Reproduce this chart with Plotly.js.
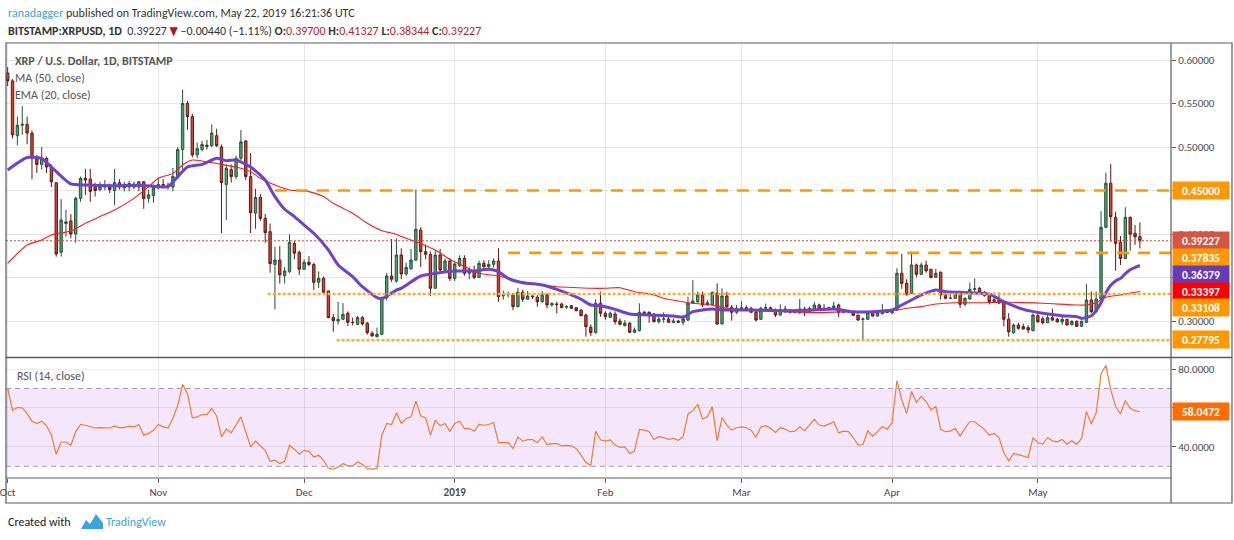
<!DOCTYPE html>
<html><head><meta charset="utf-8">
<script src="https://cdn.plot.ly/plotly-3.0.1.min.js"></script>
<style>html,body{margin:0;padding:0;background:#fff}#chart{width:1234px;height:540px}</style>
</head><body><div id="chart"></div>
<script>
// ---------- data (daily candles from 2018-10-01) ----------
const START_DATE = '2018-10-01';
const OPEN = [
0.585,0.576,0.513,0.525,0.526,0.516,0.486,0.480,0.487,0.477,
0.459,0.379,0.412,0.415,0.400,0.441,0.464,0.463,0.454,0.451,
0.454,0.454,0.450,0.459,0.453,0.454,0.457,0.454,0.460,0.441,
0.444,0.453,0.457,0.456,0.454,0.466,0.497,0.550,0.535,0.491,
0.497,0.502,0.5015,0.513,0.500,0.457,0.474,0.466,0.487,0.507,
0.466,0.424,0.442,0.418,0.4027,0.365,0.370,0.352,0.357,0.389,
0.379,0.3595,0.3675,0.365,0.3445,0.349,0.3345,0.304,0.300,0.302,
0.309,0.2985,0.2962,0.304,0.2974,0.286,0.282,0.2847,0.3268,0.3517,
0.346,0.3759,0.354,0.360,0.370,0.4046,0.3797,0.3767,0.3376,0.3759,
0.3586,0.369,0.349,0.3636,0.372,0.3548,0.3567,0.3502,0.3663,0.3624,
0.3651,0.369,0.329,0.330,0.330,0.3165,0.333,0.325,0.3287,0.3273,
0.3222,0.330,0.3184,0.3195,0.3195,0.3160,0.3176,0.3153,0.3126,0.3069,
0.2928,0.2866,0.3204,0.3089,0.3043,0.3080,0.3000,0.2946,0.2974,0.2870,
0.2889,0.3100,0.3100,0.3080,0.2992,0.3020,0.3023,0.2985,0.3000,0.2985,
0.3011,0.3204,0.3222,0.3300,0.3184,0.3184,0.3318,0.2966,0.3287,0.3158,
0.3100,0.3138,0.3153,0.3146,0.3100,0.3020,0.3146,0.3153,0.3126,0.3069,
0.3138,0.3126,0.3100,0.3096,0.3138,0.3100,0.3138,0.3184,0.3146,0.3138,
0.3153,0.3184,0.3100,0.3107,0.3107,0.3069,0.3019,0.3020,0.3100,0.3057,
0.3084,0.3107,0.3092,0.3126,0.3548,0.3433,0.3318,0.3644,0.3537,0.3644,
0.3594,0.3502,0.3560,0.3300,0.3261,0.3261,0.3310,0.3192,0.3253,0.3364,
0.3376,0.3330,0.3291,0.3222,0.3241,0.3215,0.3020,0.2866,0.2954,0.2935,
0.2924,0.2889,0.3061,0.3026,0.2981,0.3038,0.3019,0.2989,0.3019,0.2958,
0.2996,0.2939,0.2985,0.3241,0.3107,0.3253,0.4077,0.4583,0.4192,0.3905,
0.3720,0.4192,0.4008,0.3970];
const HIGH = [
0.592,0.578,0.535,0.547,0.535,0.519,0.491,0.500,0.489,0.480,
0.459,0.440,0.428,0.423,0.443,0.466,0.475,0.475,0.459,0.460,
0.462,0.458,0.475,0.463,0.460,0.461,0.460,0.461,0.461,0.451,
0.457,0.464,0.463,0.459,0.476,0.500,0.566,0.553,0.538,0.505,
0.507,0.508,0.526,0.521,0.503,0.480,0.480,0.490,0.5195,0.508,
0.493,0.452,0.446,0.423,0.412,0.3854,0.386,0.362,0.3997,0.392,
0.381,0.371,0.3745,0.367,0.357,0.351,0.335,0.308,0.322,0.3207,
0.311,0.304,0.306,0.3055,0.299,0.288,0.2925,0.328,0.355,0.3943,
0.395,0.3836,0.367,0.3828,0.4513,0.4077,0.388,0.380,0.381,0.383,
0.372,0.372,0.367,0.3755,0.3755,0.3615,0.3636,0.3695,0.370,0.370,
0.372,0.3836,0.335,0.334,0.332,0.338,0.336,0.3345,0.330,0.330,
0.3345,0.332,0.3215,0.3222,0.3210,0.3180,0.3185,0.3160,0.3135,0.3085,
0.2960,0.325,0.3337,0.3110,0.3110,0.3110,0.3030,0.3010,0.2990,0.2925,
0.3204,0.3115,0.3110,0.3090,0.3050,0.3100,0.3050,0.3030,0.3010,0.3070,
0.3280,0.3470,0.3337,0.3337,0.3240,0.3337,0.3433,0.3376,0.3337,0.3184,
0.3184,0.3230,0.3180,0.3165,0.3125,0.3165,0.3200,0.3165,0.3145,0.3192,
0.3172,0.3135,0.3110,0.3253,0.3165,0.3165,0.3222,0.3200,0.3195,0.3165,
0.3222,0.3200,0.3115,0.3115,0.3115,0.3069,0.3040,0.3107,0.3115,0.3107,
0.3195,0.3126,0.3138,0.3606,0.3770,0.3480,0.3797,0.3660,0.3670,0.3695,
0.3600,0.3600,0.3570,0.3318,0.3330,0.3345,0.3337,0.3272,0.3440,0.3490,
0.3390,0.3345,0.3310,0.3330,0.3330,0.3222,0.3090,0.2970,0.2980,0.2970,
0.2950,0.3085,0.3095,0.3050,0.3070,0.3142,0.3035,0.3065,0.3026,0.3008,
0.3008,0.3008,0.3425,0.3338,0.3338,0.4264,0.4705,0.4805,0.4257,0.3977,
0.4307,0.4200,0.4103,0.41327];
const LOW = [
0.570,0.510,0.502,0.514,0.503,0.463,0.470,0.474,0.470,0.454,
0.374,0.374,0.397,0.395,0.390,0.437,0.445,0.437,0.443,0.449,
0.450,0.447,0.433,0.451,0.449,0.449,0.452,0.449,0.429,0.436,
0.436,0.451,0.453,0.451,0.449,0.463,0.470,0.520,0.488,0.487,
0.495,0.497,0.500,0.500,0.401,0.416,0.459,0.463,0.485,0.462,
0.401,0.406,0.415,0.390,0.3555,0.3134,0.343,0.343,0.355,0.371,
0.353,0.359,0.363,0.3356,0.338,0.332,0.303,0.2877,0.296,0.301,
0.294,0.295,0.2955,0.295,0.2843,0.2815,0.281,0.2843,0.3235,0.345,
0.344,0.348,0.352,0.359,0.369,0.362,0.371,0.3287,0.337,0.354,
0.356,0.346,0.346,0.362,0.352,0.348,0.348,0.3495,0.3586,0.358,
0.3615,0.3222,0.3245,0.327,0.3125,0.3155,0.322,0.3245,0.3253,0.3165,
0.321,0.3145,0.3165,0.3087,0.3150,0.3140,0.3140,0.3110,0.3055,0.2820,
0.2828,0.2855,0.3050,0.3015,0.3035,0.2960,0.2950,0.2940,0.2860,0.2860,
0.2880,0.3080,0.2980,0.2985,0.2970,0.2980,0.2975,0.2975,0.2980,0.2950,
0.3000,0.3195,0.3200,0.3160,0.3175,0.3175,0.2955,0.2962,0.3145,0.3004,
0.3080,0.3125,0.3115,0.3090,0.2995,0.3011,0.3130,0.3110,0.3045,0.3060,
0.3092,0.3085,0.3090,0.3080,0.3055,0.3092,0.3130,0.3130,0.3125,0.3130,
0.3145,0.3045,0.3090,0.3095,0.3057,0.3004,0.2782,0.3011,0.3050,0.3050,
0.3076,0.3092,0.3084,0.3118,0.3370,0.3290,0.3310,0.3500,0.3530,0.3555,
0.3490,0.3495,0.3250,0.3250,0.3255,0.3253,0.3150,0.3170,0.3245,0.3320,
0.3310,0.3280,0.3190,0.3210,0.3195,0.2935,0.2820,0.2850,0.2900,0.2900,
0.2860,0.2880,0.2980,0.2960,0.2975,0.3000,0.2985,0.2955,0.2950,0.2950,
0.2935,0.2935,0.2975,0.3090,0.3096,0.3240,0.4065,0.3912,0.3578,0.3644,
0.3710,0.3808,0.3875,0.38344];
const CLOSE = [
0.576,0.514,0.525,0.526,0.516,0.487,0.480,0.487,0.477,0.460,
0.377,0.416,0.414,0.400,0.441,0.464,0.462,0.449,0.450,0.455,
0.455,0.451,0.459,0.454,0.456,0.458,0.454,0.460,0.441,0.445,
0.453,0.457,0.456,0.454,0.466,0.497,0.550,0.535,0.491,0.498,
0.503,0.501,0.516,0.5015,0.459,0.4755,0.466,0.487,0.506,0.466,
0.4245,0.442,0.418,0.4015,0.366,0.370,0.353,0.3575,0.3905,0.378,
0.3595,0.3675,0.365,0.3445,0.349,0.333,0.304,0.3004,0.302,0.3077,
0.2985,0.2983,0.304,0.2966,0.2866,0.283,0.2847,0.3268,0.3517,0.348,
0.3759,0.354,0.3617,0.370,0.4054,0.3797,0.3767,0.3376,0.3759,0.3586,
0.369,0.349,0.3655,0.372,0.3548,0.3586,0.3502,0.3663,0.3624,0.3651,
0.369,0.328,0.330,0.3305,0.3165,0.333,0.325,0.3287,0.3280,0.3222,
0.330,0.3184,0.320,0.3190,0.3153,0.3163,0.3146,0.3119,0.3061,0.2935,
0.2866,0.3204,0.3089,0.3050,0.3089,0.2992,0.2962,0.2974,0.2870,0.2897,
0.3100,0.3090,0.3080,0.2992,0.3023,0.3023,0.2985,0.3000,0.2985,0.3023,
0.3204,0.3230,0.3300,0.3184,0.3210,0.3330,0.2966,0.3287,0.3165,0.3100,
0.3146,0.3153,0.3138,0.3100,0.3011,0.3146,0.3153,0.3123,0.3069,0.3126,
0.3107,0.3100,0.3098,0.3138,0.3100,0.3146,0.3184,0.3138,0.3130,0.3153,
0.3172,0.3100,0.3105,0.3107,0.3065,0.3011,0.3023,0.3100,0.3057,0.3096,
0.3107,0.3100,0.3126,0.3548,0.3433,0.3307,0.3644,0.3537,0.3644,0.3578,
0.3502,0.3548,0.3300,0.3261,0.3262,0.3310,0.3192,0.3261,0.3364,0.3370,
0.3330,0.3291,0.3222,0.3245,0.3207,0.3020,0.2877,0.2954,0.2916,0.2910,
0.2897,0.3069,0.2992,0.2981,0.3038,0.3011,0.2989,0.3019,0.2954,0.2996,
0.2939,0.2996,0.3241,0.3107,0.3253,0.4077,0.4583,0.4199,0.3893,0.3720,
0.4192,0.3997,0.3967,0.39227];
const RSI = [
70,58.8,60.2,60,57.1,53.2,52,53.2,50.8,46,
36.2,42.5,42.5,40.8,47.7,51.5,51.1,50.3,49.7,49.9,
49.9,49.7,50.8,49.9,49.9,50.6,50.3,51.5,46,46.8,
48.5,51.5,50.3,49.7,54.6,61.4,72.1,67.4,54.9,55.4,
56.6,56.6,59.7,55.9,45.1,49.1,47.2,51.1,55.4,47.7,
40,42.9,40.5,38.2,32.6,33.1,31.4,32.6,40.8,38.8,
36.2,38.2,37.7,34.8,35.7,33.1,29.1,28.5,29.7,31.4,
30.2,30.2,32.2,30.9,28.8,28.5,28.8,46,52,51.5,
57.5,52,54.6,55.4,63.5,55.9,54.9,46,53.7,50.8,
52,48,52,53.2,49.4,49.4,48,51.5,51.1,51.5,
52.5,42.2,42.2,42.2,39.1,45.1,42.9,43.7,43.7,42.2,
45.1,41.2,41.7,41.7,40.5,40.8,40.5,39.1,35.7,31.9,
30.5,48,43.6,42.9,43.6,40.9,39.7,40,36.6,37.8,
49,48.6,47.8,43.8,45.2,44.7,43.8,44.3,43.4,45.2,
56.9,58.6,61.9,54.3,55.5,60.7,43.1,55,51.2,48.6,
49.8,50.3,49.8,48.6,44.8,50.3,50.9,49.5,47.4,49.8,
49.1,47.8,48.1,50.3,48.3,51.2,54.1,51.2,50.7,51.7,
52.9,47.2,48.1,47.8,44.8,40.9,41.2,48.3,45.5,47.8,
50.3,49.1,52.4,74,64.1,57.2,68.4,62.9,65.9,63.3,
59,60.7,49,47.8,48.1,49.5,45.5,49.5,52.9,52.9,
50.7,49,46,46.9,44.8,36.9,32.8,36.6,36,35.3,
34.5,44.7,42.1,41.4,44.7,43.1,42.6,43.8,41.4,43.1,
41.4,44.3,58.1,51.7,57.6,77.6,81.9,69.3,60.7,56.9,
63.8,59.8,58.6,58.0472];
// EMA(20) line, read at these day indexes
const EMA_DAY = [0,4,7,9,13,16,22,27,31,33,35,37,40,43,45,47,50,53,55,57,59,61,63,66,68,71,73,76,77,80,81,85,89,92,96,99,101,103,106,110,113,116,118,120,122,125,128,132,137,139,141,145,147,150,153,160,166,170,174,178,182,184,186,188,191,193,196,200,202,205,209,213,217,220,221,223,224,225,226,227,228,229,230,231,232,233];
const EMA_VAL = [0.4736,0.488,0.487,0.477,0.4575,0.4563,0.4556,0.456,0.4544,0.4544,0.466,0.477,0.480,0.487,0.4843,0.485,0.477,0.462,0.443,0.4284,0.42,0.4103,0.4008,0.3816,0.3644,0.351,0.3394,0.3268,0.3257,0.3356,0.3376,0.3517,0.3556,0.3575,0.3575,0.3594,0.3567,0.349,0.344,0.3414,0.3364,0.330,0.325,0.3184,0.3176,0.3134,0.308,0.3069,0.3057,0.3043,0.3107,0.3138,0.3126,0.3126,0.3126,0.3118,0.3126,0.3138,0.3107,0.3107,0.3126,0.3184,0.3241,0.330,0.3356,0.3337,0.333,0.3318,0.331,0.3222,0.3134,0.3089,0.3061,0.305,0.303,0.3061,0.312,0.321,0.3325,0.341,0.346,0.349,0.3545,0.359,0.3615,0.36379];
// MA(50) line, read at these day indexes
const MA_DAY = [0,4,7,9,13,16,19,22,26,29,31,34,36,38,40,43,47,50,52,55,58,62,65,67,71,74,77,80,81,84,88,91,94,97,101,105,109,113,117,120,123,126,129,133,135,138,141,145,148,152,156,160,166,173,180,183,185,188,191,195,200,206,213,220,222,224,226,229,233];
const MA_VAL = [0.3663,0.3874,0.3931,0.3989,0.4034,0.4123,0.42,0.4276,0.441,0.4544,0.464,0.4697,0.4793,0.485,0.484,0.481,0.477,0.4716,0.464,0.4563,0.4506,0.4487,0.443,0.4353,0.4238,0.4123,0.4038,0.3997,0.397,0.3912,0.3816,0.3709,0.3625,0.3548,0.3517,0.346,0.3425,0.3394,0.3383,0.3376,0.3376,0.3383,0.3337,0.330,0.3261,0.323,0.3204,0.3184,0.3146,0.3126,0.3115,0.3107,0.3096,0.3107,0.3107,0.3126,0.3146,0.3165,0.3195,0.321,0.321,0.3215,0.3204,0.3184,0.3184,0.321,0.3273,0.330,0.33397];
const LEVELS = [0.45, 0.37835, 0.33108, 0.27795];
const LEVEL_FROM = ['2018-11-25', '2019-01-12', '2018-11-23 12:00', '2018-12-07 16:00'];
const LEVEL_STYLE = ['long', 'long', 'dot', 'dot'];
const LAST = {price: 0.39227, ema: 0.36379, ma: 0.33397, rsi: 58.0472};
const MONTH_TICKS = ['2018-10-01','2018-11-01','2018-12-01','2019-01-01','2019-02-01','2019-03-01','2019-04-01','2019-05-01'];
const MONTH_LABELS = ['Oct','Nov','Dec','<b>2019</b>','Feb','Mar','Apr','May'];
const PRICE_TICKS = [0.30,0.35,0.40,0.45,0.50,0.55,0.60];
const PRICE_LABELS = ['0.30000','','0.40000','','0.50000','0.55000','0.60000'];
const RSI_TICKS = [40,60,80];
const RSI_LABELS = ['40.0000','','80.0000'];

// ---------- build ----------
const t0 = Date.parse(START_DATE + 'T00:00:00Z');
const DATES = CLOSE.map((_, i) => new Date(t0 + i * 86400000).toISOString().slice(0, 10));
const X_RANGE = ['2018-09-30 15:45', '2019-05-28 09:36'];
const FONT = "Carlito, 'Liberation Sans Narrow', 'Arial Narrow', 'DejaVu Sans Condensed', sans-serif";
const W = 1234, H = 540, ML = 6, MR = 63, MT = 43, MB = 62;
const PW = W - ML - MR, PH = H - MT - MB;
const px = v => (v - ML) / PW;
const py = v => (H - MB - v) / PH;

const ORANGE = '#ff9800';
const traces = [
  {type: 'candlestick', x: DATES, open: OPEN, high: HIGH, low: LOW, close: CLOSE,
   xaxis: 'x', yaxis: 'y', whiskerwidth: 0,
   increasing: {line: {color: '#225437', width: 1}, fillcolor: '#53a177'},
   decreasing: {line: {color: '#5b1a13', width: 1}, fillcolor: '#d0473a'},
   hoverinfo: 'skip'},
  {type: 'scatter', mode: 'lines', x: MA_DAY.map(i => DATES[i]), y: MA_VAL,
   line: {color: '#ff1a1a', width: 1.1, shape: 'spline', smoothing: 0.6}, xaxis: 'x', yaxis: 'y', hoverinfo: 'skip'},
  {type: 'scatter', mode: 'lines', x: EMA_DAY.map(i => DATES[i]), y: EMA_VAL,
   line: {color: '#6f42c9', width: 3, shape: 'spline', smoothing: 0.6}, xaxis: 'x', yaxis: 'y', hoverinfo: 'skip'},
  {type: 'scatter', mode: 'lines', x: DATES, y: RSI,
   line: {color: '#f57a36', width: 1.2}, xaxis: 'x', yaxis: 'y2', hoverinfo: 'skip'}
];

const shapes = [];
// RSI band and bounds
shapes.push({type: 'rect', xref: 'paper', yref: 'y2', x0: 0, x1: 1, y0: 30, y1: 70,
  fillcolor: '#f4e7fb', line: {width: 0}, layer: 'below'});
[70, 30].forEach(v => shapes.push({type: 'line', xref: 'paper', yref: 'y2', x0: 0, x1: 1, y0: v, y1: v,
  line: {color: '#a79cae', width: 1, dash: '5px,4px'}}));
// support / resistance levels
LEVELS.forEach((v, k) => shapes.push({type: 'line', xref: 'x', yref: 'y', x0: LEVEL_FROM[k], x1: X_RANGE[1], y0: v, y1: v,
  line: LEVEL_STYLE[k] === 'long' ? {color: ORANGE, width: 2.6, dash: '12px,9px'} : {color: '#ffab2e', width: 2.6, dash: '3px,2px'}}));
// last price line
shapes.push({type: 'line', xref: 'x', yref: 'y', x0: X_RANGE[0], x1: X_RANGE[1], y0: LAST.price, y1: LAST.price,
  line: {color: '#e0453a', width: 1, dash: '2px,2px'}});
// frame, pane separator, axes
const FRAME = '#5a5a5a';
shapes.push({type: 'rect', xref: 'paper', yref: 'paper', x0: px(6), x1: px(1232), y0: py(503), y1: py(43), line: {color: FRAME, width: 1.2}});
shapes.push({type: 'line', xref: 'paper', yref: 'paper', x0: px(6), x1: px(1232), y0: py(357.5), y1: py(357.5), line: {color: FRAME, width: 1.6}});
shapes.push({type: 'line', xref: 'paper', yref: 'paper', x0: px(6), x1: px(1171), y0: py(478), y1: py(478), line: {color: FRAME, width: 1.2}});
shapes.push({type: 'line', xref: 'paper', yref: 'paper', x0: px(1171), x1: px(1171), y0: py(503), y1: py(43), line: {color: FRAME, width: 1.2}});
// TradingView logo (simple mountain mark)
shapes.push({type: 'path', xref: 'paper', yref: 'paper',
  path: `M ${px(81)} ${py(529)} L ${px(86)} ${py(520)} L ${px(90)} ${py(524)} L ${px(96)} ${py(514)} L ${px(103)} ${py(523)} L ${px(103)} ${py(529)} Z`,
  fillcolor: '#3ba4e0', line: {width: 0}});

const annotations = [];
const TXT = 12;
const note = (text, x, y, opts) => annotations.push(Object.assign({text, x, y, xref: 'paper', yref: 'paper',
  xanchor: 'left', yanchor: 'middle', showarrow: false, font: {family: FONT, size: TXT, color: '#333'}}, opts || {}));
note('<span style="color:#3ba4e0">ranadagger</span> published on TradingView.com, May 22, 2019 16:21:36 UTC', px(6), py(13));
note('<b>BITSTAMP:XRPUSD, 1D</b>  0.39227 <span style="color:#b0161b">▼</span> −0.00440 (−1.11%) <b>O:</b><span style="color:#c0201c">0.39700</span> <b>H:</b><span style="color:#c0201c">0.41327</span> <b>L:</b><span style="color:#c0201c">0.38344</span> <b>C:</b><span style="color:#c0201c">0.39227</span>', px(6), py(31));
note('<b>XRP / U.S. Dollar, 1D, BITSTAMP</b>', px(13), py(61), {font: {family: FONT, size: TXT, color: '#555'}});
note('MA (50, close)', px(13), py(78), {font: {family: FONT, size: TXT, color: '#555'}});
note('EMA (20, close)', px(13), py(95), {font: {family: FONT, size: TXT, color: '#555'}});
note('RSI (14, close)', px(15), py(376), {font: {family: FONT, size: TXT, color: '#555'}});
note('Created with', px(6), py(522), {font: {family: FONT, size: TXT, color: '#222'}});
note('TradingView', px(104), py(522), {font: {family: FONT, size: TXT, color: '#3ba4e0'}});

const tag = (val, txt, yref, bg, yshift) => annotations.push({text: '<b>' + txt + '</b>', x: px(1172), y: val,
  xref: 'paper', yref, xanchor: 'left', yanchor: 'middle', yshift, showarrow: false, bgcolor: bg,
  width: 54, height: 15, borderpad: 1, align: 'center', font: {family: FONT, size: 11.5, color: '#fff'}});
tag(LEVELS[0], LEVELS[0].toFixed(5), 'y', ORANGE, 0);
tag(LAST.price, LAST.price.toFixed(5), 'y', '#d75442', 0);
tag(LEVELS[1], LEVELS[1].toFixed(5), 'y', ORANGE, -4.5);
tag(LAST.ema, LAST.ema.toFixed(5), 'y', '#673ab7', -8.5);
tag(LAST.ma, LAST.ma.toFixed(5), 'y', '#ff0000', 0);
tag(LEVELS[2], LEVELS[2].toFixed(5), 'y', ORANGE, -14);
tag(LEVELS[3], LEVELS[3].toFixed(5), 'y', ORANGE, 1);
tag(LAST.rsi, LAST.rsi.toFixed(4), 'y2', '#ff6d00', 0);

const axisFont = {family: FONT, size: 11, color: '#4a4a4a'};
const layout = {
  width: W, height: H, margin: {l: ML, r: MR, t: MT, b: MB},
  paper_bgcolor: '#fff', plot_bgcolor: '#fff', showlegend: false, hovermode: false,
  font: {family: FONT},
  xaxis: {type: 'date', range: X_RANGE, anchor: 'y2', tickvals: MONTH_TICKS, ticktext: MONTH_LABELS,
    tickfont: axisFont, showgrid: true, gridcolor: 'rgba(0,0,0,0.09)', gridwidth: 1,
    ticks: 'outside', ticklen: 4, tickcolor: FRAME, zeroline: false, showline: false,
    ticklabeloverflow: 'allow', rangeslider: {visible: false}, fixedrange: true},
  yaxis: {domain: [py(357), 1], range: [0.25862, 0.61954], side: 'right', tickvals: PRICE_TICKS,
    ticktext: PRICE_LABELS, tickfont: axisFont, showgrid: true, gridcolor: 'rgba(0,0,0,0.09)',
    ticks: 'outside', ticklen: 4, tickcolor: FRAME, zeroline: false, showline: false, fixedrange: true},
  yaxis2: {domain: [0, py(358)], range: [23.98, 85.68], side: 'right', anchor: 'x', tickvals: RSI_TICKS,
    ticktext: RSI_LABELS, tickfont: axisFont, showgrid: true, gridcolor: 'rgba(0,0,0,0.08)',
    ticks: 'outside', ticklen: 4, tickcolor: FRAME, zeroline: false, showline: false, fixedrange: true},
  shapes, annotations
};
Plotly.newPlot('chart', traces, layout, {displayModeBar: false, staticPlot: true});
</script></body></html>
